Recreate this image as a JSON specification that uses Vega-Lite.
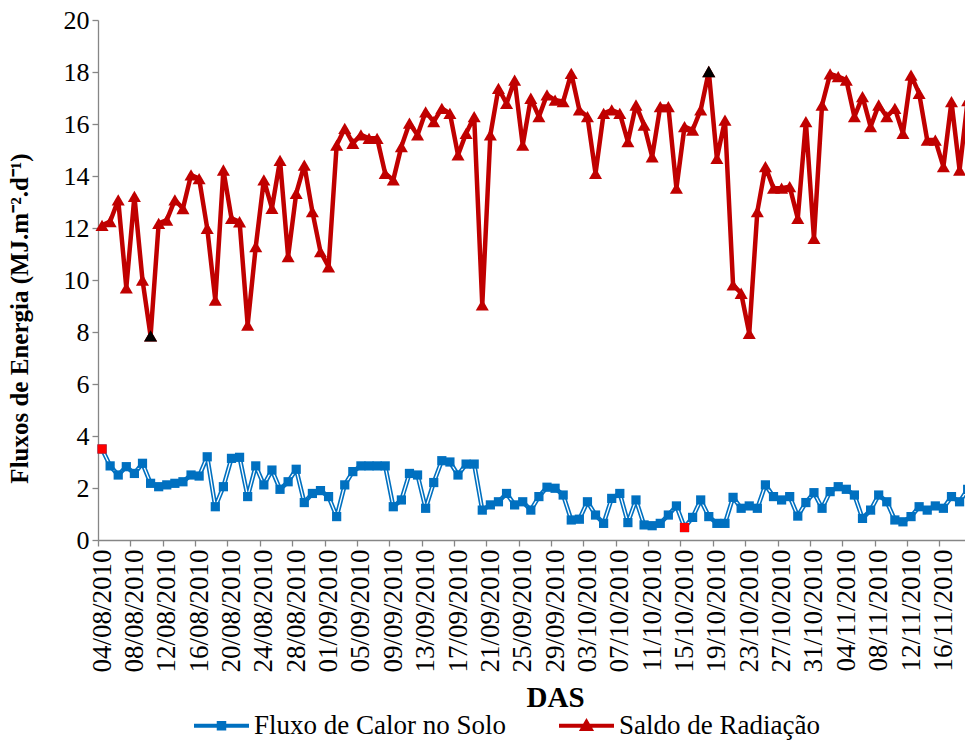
{
  "$schema": "https://vega.github.io/schema/vega-lite/v6.json",
  "width": 867,
  "height": 520,
  "autosize": {"type": "none"},
  "padding": {"left": 98, "top": 20, "right": 0, "bottom": 200},
  "background": "white",
  "config": {
    "view": {"stroke": null},
    "style": {"guide-label": {"font": "Liberation Serif", "fill": "black"}, "guide-title": {"font": "Liberation Serif", "fill": "black"}},
    "axis": {"grid": false, "domainColor": "#868686", "domainWidth": 1.3, "tickColor": "#868686", "tickWidth": 1.3, "labelColor": "black", "titleColor": "black", "labelFont": "Liberation Serif", "titleFont": "Liberation Serif"},
    "legend": {"labelFont": "Liberation Serif"}
  },
  "data": {
    "values": [
      {"data": "2010-08-04", "fluxo": 3.5, "saldo": 12.1},
      {"data": "2010-08-05", "fluxo": 2.85, "saldo": 12.25},
      {"data": "2010-08-06", "fluxo": 2.5, "saldo": 13.08},
      {"data": "2010-08-07", "fluxo": 2.82, "saldo": 9.7},
      {"data": "2010-08-08", "fluxo": 2.56, "saldo": 13.22},
      {"data": "2010-08-09", "fluxo": 2.95, "saldo": 10.0},
      {"data": "2010-08-10", "fluxo": 2.18, "saldo": 7.85},
      {"data": "2010-08-11", "fluxo": 2.05, "saldo": 12.18},
      {"data": "2010-08-12", "fluxo": 2.12, "saldo": 12.3},
      {"data": "2010-08-13", "fluxo": 2.18, "saldo": 13.08},
      {"data": "2010-08-14", "fluxo": 2.24, "saldo": 12.75},
      {"data": "2010-08-15", "fluxo": 2.5, "saldo": 14.04},
      {"data": "2010-08-16", "fluxo": 2.46, "saldo": 13.9},
      {"data": "2010-08-17", "fluxo": 3.2, "saldo": 11.99},
      {"data": "2010-08-18", "fluxo": 1.28, "saldo": 9.23},
      {"data": "2010-08-19", "fluxo": 2.05, "saldo": 14.23},
      {"data": "2010-08-20", "fluxo": 3.14, "saldo": 12.37},
      {"data": "2010-08-21", "fluxo": 3.18, "saldo": 12.24},
      {"data": "2010-08-22", "fluxo": 1.67, "saldo": 8.27},
      {"data": "2010-08-23", "fluxo": 2.85, "saldo": 11.28},
      {"data": "2010-08-24", "fluxo": 2.12, "saldo": 13.85},
      {"data": "2010-08-25", "fluxo": 2.69, "saldo": 12.76},
      {"data": "2010-08-26", "fluxo": 1.95, "saldo": 14.6},
      {"data": "2010-08-27", "fluxo": 2.24, "saldo": 10.9},
      {"data": "2010-08-28", "fluxo": 2.72, "saldo": 13.33},
      {"data": "2010-08-29", "fluxo": 1.44, "saldo": 14.42},
      {"data": "2010-08-30", "fluxo": 1.79, "saldo": 12.63},
      {"data": "2010-08-31", "fluxo": 1.9, "saldo": 11.09},
      {"data": "2010-09-01", "fluxo": 1.67, "saldo": 10.51},
      {"data": "2010-09-02", "fluxo": 0.9, "saldo": 15.19},
      {"data": "2010-09-03", "fluxo": 2.12, "saldo": 15.83},
      {"data": "2010-09-04", "fluxo": 2.63, "saldo": 15.26},
      {"data": "2010-09-05", "fluxo": 2.85, "saldo": 15.58},
      {"data": "2010-09-06", "fluxo": 2.85, "saldo": 15.45},
      {"data": "2010-09-07", "fluxo": 2.85, "saldo": 15.45},
      {"data": "2010-09-08", "fluxo": 2.85, "saldo": 14.1},
      {"data": "2010-09-09", "fluxo": 1.28, "saldo": 13.85},
      {"data": "2010-09-10", "fluxo": 1.54, "saldo": 15.13},
      {"data": "2010-09-11", "fluxo": 2.56, "saldo": 16.03},
      {"data": "2010-09-12", "fluxo": 2.5, "saldo": 15.58},
      {"data": "2010-09-13", "fluxo": 1.22, "saldo": 16.47},
      {"data": "2010-09-14", "fluxo": 2.21, "saldo": 16.09},
      {"data": "2010-09-15", "fluxo": 3.05, "saldo": 16.6},
      {"data": "2010-09-16", "fluxo": 3.0, "saldo": 16.41},
      {"data": "2010-09-17", "fluxo": 2.5, "saldo": 14.81},
      {"data": "2010-09-18", "fluxo": 2.92, "saldo": 15.64},
      {"data": "2010-09-19", "fluxo": 2.92, "saldo": 16.28},
      {"data": "2010-09-20", "fluxo": 1.15, "saldo": 9.04},
      {"data": "2010-09-21", "fluxo": 1.35, "saldo": 15.58},
      {"data": "2010-09-22", "fluxo": 1.47, "saldo": 17.37},
      {"data": "2010-09-23", "fluxo": 1.79, "saldo": 16.79},
      {"data": "2010-09-24", "fluxo": 1.35, "saldo": 17.69},
      {"data": "2010-09-25", "fluxo": 1.47, "saldo": 15.19},
      {"data": "2010-09-26", "fluxo": 1.15, "saldo": 16.99},
      {"data": "2010-09-27", "fluxo": 1.67, "saldo": 16.28},
      {"data": "2010-09-28", "fluxo": 2.03, "saldo": 17.12},
      {"data": "2010-09-29", "fluxo": 1.99, "saldo": 16.92},
      {"data": "2010-09-30", "fluxo": 1.73, "saldo": 16.86},
      {"data": "2010-10-01", "fluxo": 0.77, "saldo": 17.95},
      {"data": "2010-10-02", "fluxo": 0.8, "saldo": 16.54},
      {"data": "2010-10-03", "fluxo": 1.47, "saldo": 16.28},
      {"data": "2010-10-04", "fluxo": 0.96, "saldo": 14.1},
      {"data": "2010-10-05", "fluxo": 0.64, "saldo": 16.41},
      {"data": "2010-10-06", "fluxo": 1.6, "saldo": 16.54},
      {"data": "2010-10-07", "fluxo": 1.79, "saldo": 16.41},
      {"data": "2010-10-08", "fluxo": 0.67, "saldo": 15.32},
      {"data": "2010-10-09", "fluxo": 1.54, "saldo": 16.73},
      {"data": "2010-10-10", "fluxo": 0.58, "saldo": 15.96},
      {"data": "2010-10-11", "fluxo": 0.55, "saldo": 14.74},
      {"data": "2010-10-12", "fluxo": 0.64, "saldo": 16.67},
      {"data": "2010-10-13", "fluxo": 0.96, "saldo": 16.67},
      {"data": "2010-10-14", "fluxo": 1.31, "saldo": 13.53},
      {"data": "2010-10-15", "fluxo": 0.48, "saldo": 15.9},
      {"data": "2010-10-16", "fluxo": 0.87, "saldo": 15.77},
      {"data": "2010-10-17", "fluxo": 1.54, "saldo": 16.54},
      {"data": "2010-10-18", "fluxo": 0.9, "saldo": 18.02},
      {"data": "2010-10-19", "fluxo": 0.64, "saldo": 14.68},
      {"data": "2010-10-20", "fluxo": 0.64, "saldo": 16.15},
      {"data": "2010-10-21", "fluxo": 1.64, "saldo": 9.81},
      {"data": "2010-10-22", "fluxo": 1.22, "saldo": 9.49},
      {"data": "2010-10-23", "fluxo": 1.31, "saldo": 7.95},
      {"data": "2010-10-24", "fluxo": 1.22, "saldo": 12.63},
      {"data": "2010-10-25", "fluxo": 2.12, "saldo": 14.36},
      {"data": "2010-10-26", "fluxo": 1.67, "saldo": 13.53},
      {"data": "2010-10-27", "fluxo": 1.54, "saldo": 13.53},
      {"data": "2010-10-28", "fluxo": 1.67, "saldo": 13.59},
      {"data": "2010-10-29", "fluxo": 0.92, "saldo": 12.37},
      {"data": "2010-10-30", "fluxo": 1.44, "saldo": 16.09},
      {"data": "2010-10-31", "fluxo": 1.82, "saldo": 11.6},
      {"data": "2010-11-01", "fluxo": 1.22, "saldo": 16.73},
      {"data": "2010-11-02", "fluxo": 1.86, "saldo": 17.93},
      {"data": "2010-11-03", "fluxo": 2.05, "saldo": 17.82},
      {"data": "2010-11-04", "fluxo": 1.95, "saldo": 17.69},
      {"data": "2010-11-05", "fluxo": 1.73, "saldo": 16.28},
      {"data": "2010-11-06", "fluxo": 0.83, "saldo": 17.05},
      {"data": "2010-11-07", "fluxo": 1.15, "saldo": 15.9},
      {"data": "2010-11-08", "fluxo": 1.73, "saldo": 16.73},
      {"data": "2010-11-09", "fluxo": 1.47, "saldo": 16.28},
      {"data": "2010-11-10", "fluxo": 0.77, "saldo": 16.6},
      {"data": "2010-11-11", "fluxo": 0.7, "saldo": 15.64},
      {"data": "2010-11-12", "fluxo": 0.9, "saldo": 17.88},
      {"data": "2010-11-13", "fluxo": 1.28, "saldo": 17.18},
      {"data": "2010-11-14", "fluxo": 1.15, "saldo": 15.38},
      {"data": "2010-11-15", "fluxo": 1.31, "saldo": 15.38},
      {"data": "2010-11-16", "fluxo": 1.22, "saldo": 14.36},
      {"data": "2010-11-17", "fluxo": 1.67, "saldo": 16.86},
      {"data": "2010-11-18", "fluxo": 1.47, "saldo": 14.23},
      {"data": "2010-11-19", "fluxo": 1.95, "saldo": 16.9}
    ]
  },
  "transform": [{"fold": ["fluxo", "saldo"], "as": ["serie", "valor"]}],
  "encoding": {
    "x": {
      "field": "data",
      "type": "temporal",
      "scale": {
        "type": "utc",
        "domain": [
          {"year": 2010, "month": 8, "date": 3, "hours": 12, "utc": true},
          {"year": 2010, "month": 11, "date": 18, "hours": 16, "minutes": 5, "utc": true}
        ]
      },
      "axis": {
        "values": [
          {"year": 2010, "month": 8, "date": 4, "utc": true},
          {"year": 2010, "month": 8, "date": 8, "utc": true},
          {"year": 2010, "month": 8, "date": 12, "utc": true},
          {"year": 2010, "month": 8, "date": 16, "utc": true},
          {"year": 2010, "month": 8, "date": 20, "utc": true},
          {"year": 2010, "month": 8, "date": 24, "utc": true},
          {"year": 2010, "month": 8, "date": 28, "utc": true},
          {"year": 2010, "month": 9, "date": 1, "utc": true},
          {"year": 2010, "month": 9, "date": 5, "utc": true},
          {"year": 2010, "month": 9, "date": 9, "utc": true},
          {"year": 2010, "month": 9, "date": 13, "utc": true},
          {"year": 2010, "month": 9, "date": 17, "utc": true},
          {"year": 2010, "month": 9, "date": 21, "utc": true},
          {"year": 2010, "month": 9, "date": 25, "utc": true},
          {"year": 2010, "month": 9, "date": 29, "utc": true},
          {"year": 2010, "month": 10, "date": 3, "utc": true},
          {"year": 2010, "month": 10, "date": 7, "utc": true},
          {"year": 2010, "month": 10, "date": 11, "utc": true},
          {"year": 2010, "month": 10, "date": 15, "utc": true},
          {"year": 2010, "month": 10, "date": 19, "utc": true},
          {"year": 2010, "month": 10, "date": 23, "utc": true},
          {"year": 2010, "month": 10, "date": 27, "utc": true},
          {"year": 2010, "month": 10, "date": 31, "utc": true},
          {"year": 2010, "month": 11, "date": 4, "utc": true},
          {"year": 2010, "month": 11, "date": 8, "utc": true},
          {"year": 2010, "month": 11, "date": 12, "utc": true},
          {"year": 2010, "month": 11, "date": 16, "utc": true}
        ],
        "format": "%d/%m/%Y",
        "labelAngle": -90,
        "labelAlign": "right",
        "labelBaseline": "middle",
        "labelFont": "Liberation Serif",
        "labelFontSize": 27,
        "labelPadding": 3,
        "labelOverlap": false,
        "labelBound": false,
        "labelFlush": false,
        "tickSize": 6,
        "tickOffset": -4.045,
        "labelOffset": 4.045,
        "title": "DAS",
        "titleFontSize": 29,
        "titleFontWeight": "bold",
        "titleX": 457,
        "titleY": 166,
        "titleBaseline": "alphabetic",
        "titleAlign": "center"
      }
    },
    "y": {
      "field": "valor",
      "type": "quantitative",
      "scale": {"domain": [0, 20], "nice": false},
      "axis": {
        "values": [0, 2, 4, 6, 8, 10, 12, 14, 16, 18, 20],
        "labelFont": "Liberation Serif",
        "labelFontSize": 26,
        "labelPadding": 3,
        "tickSize": 6,
        "title": "Fluxos de Energia (MJ.m⁻².d⁻¹)",
        "titleFontSize": 25,
        "titleFontWeight": "bold",
        "titleAngle": -90,
        "titleX": -66,
        "titleY": 298,
        "titleAlign": "center",
        "titleBaseline": "bottom"
      }
    }
  },
  "layer": [
    {
      "mark": {"type": "line", "strokeWidth": 4.5, "strokeJoin": "round"},
      "encoding": {
        "color": {
          "field": "serie",
          "type": "nominal",
          "scale": {"domain": ["fluxo", "saldo"], "range": ["#0070C0", "#C00000"]},
          "legend": {
            "orient": "none",
            "legendX": 94,
            "legendY": 676,
            "direction": "horizontal",
            "title": null,
            "labelFont": "Liberation Serif",
            "labelFontSize": 27,
            "labelColor": "black",
            "labelLimit": 500,
            "labelOffset": 3,
            "columnPadding": 44,
            "symbolSize": 3025,
            "symbolStrokeWidth": 4,
            "labelExpr": "datum.value == 'fluxo' ? 'Fluxo de Calor no Solo' : 'Saldo de Radiação'",
            "encode": {
              "symbols": {
                "update": {
                  "shape": {"signal": "datum.value == 'fluxo' ? 'M-1,0H1M-0.1,-0.1H0.1V0.1H-0.1Z' : 'M-1,0H1M0,-0.14L0.15,0.12H-0.15Z'"},
                  "fill": {"scale": "color", "field": "value"},
                  "stroke": {"scale": "color", "field": "value"}
                }
              }
            }
          }
        }
      }
    },
    {
      "transform": [{"filter": "datum.serie == 'fluxo'"}],
      "mark": {"type": "line", "strokeWidth": 1.3, "color": "white", "strokeJoin": "round"},
      "encoding": {}
    },
    {
      "transform": [{"filter": "datum.serie == 'fluxo'"}],
      "mark": {"type": "point", "shape": "square", "filled": true, "opacity": 1, "size": 85, "color": "#0070C0"},
      "encoding": {}
    },
    {
      "transform": [{"filter": "datum.serie == 'saldo'"}],
      "mark": {"type": "point", "shape": "triangle-up", "filled": true, "opacity": 1, "size": 170, "color": "#C00000"},
      "encoding": {}
    },
    {
      "transform": [
        {"filter": "datum.serie == 'fluxo'"},
        {"joinaggregate": [{"op": "max", "field": "valor", "as": "vmax"}, {"op": "min", "field": "valor", "as": "vmin"}]},
        {"filter": "datum.valor == datum.vmax || datum.valor == datum.vmin"}
      ],
      "mark": {"type": "point", "shape": "square", "filled": true, "opacity": 1, "size": 85, "color": "#FF0000"},
      "encoding": {}
    },
    {
      "transform": [
        {"filter": "datum.serie == 'saldo'"},
        {"joinaggregate": [{"op": "max", "field": "valor", "as": "vmax"}, {"op": "min", "field": "valor", "as": "vmin"}]},
        {"filter": "datum.valor == datum.vmax || datum.valor == datum.vmin"}
      ],
      "mark": {"type": "point", "shape": "triangle-up", "filled": true, "opacity": 1, "size": 170, "color": "black"},
      "encoding": {}
    }
  ]
}
